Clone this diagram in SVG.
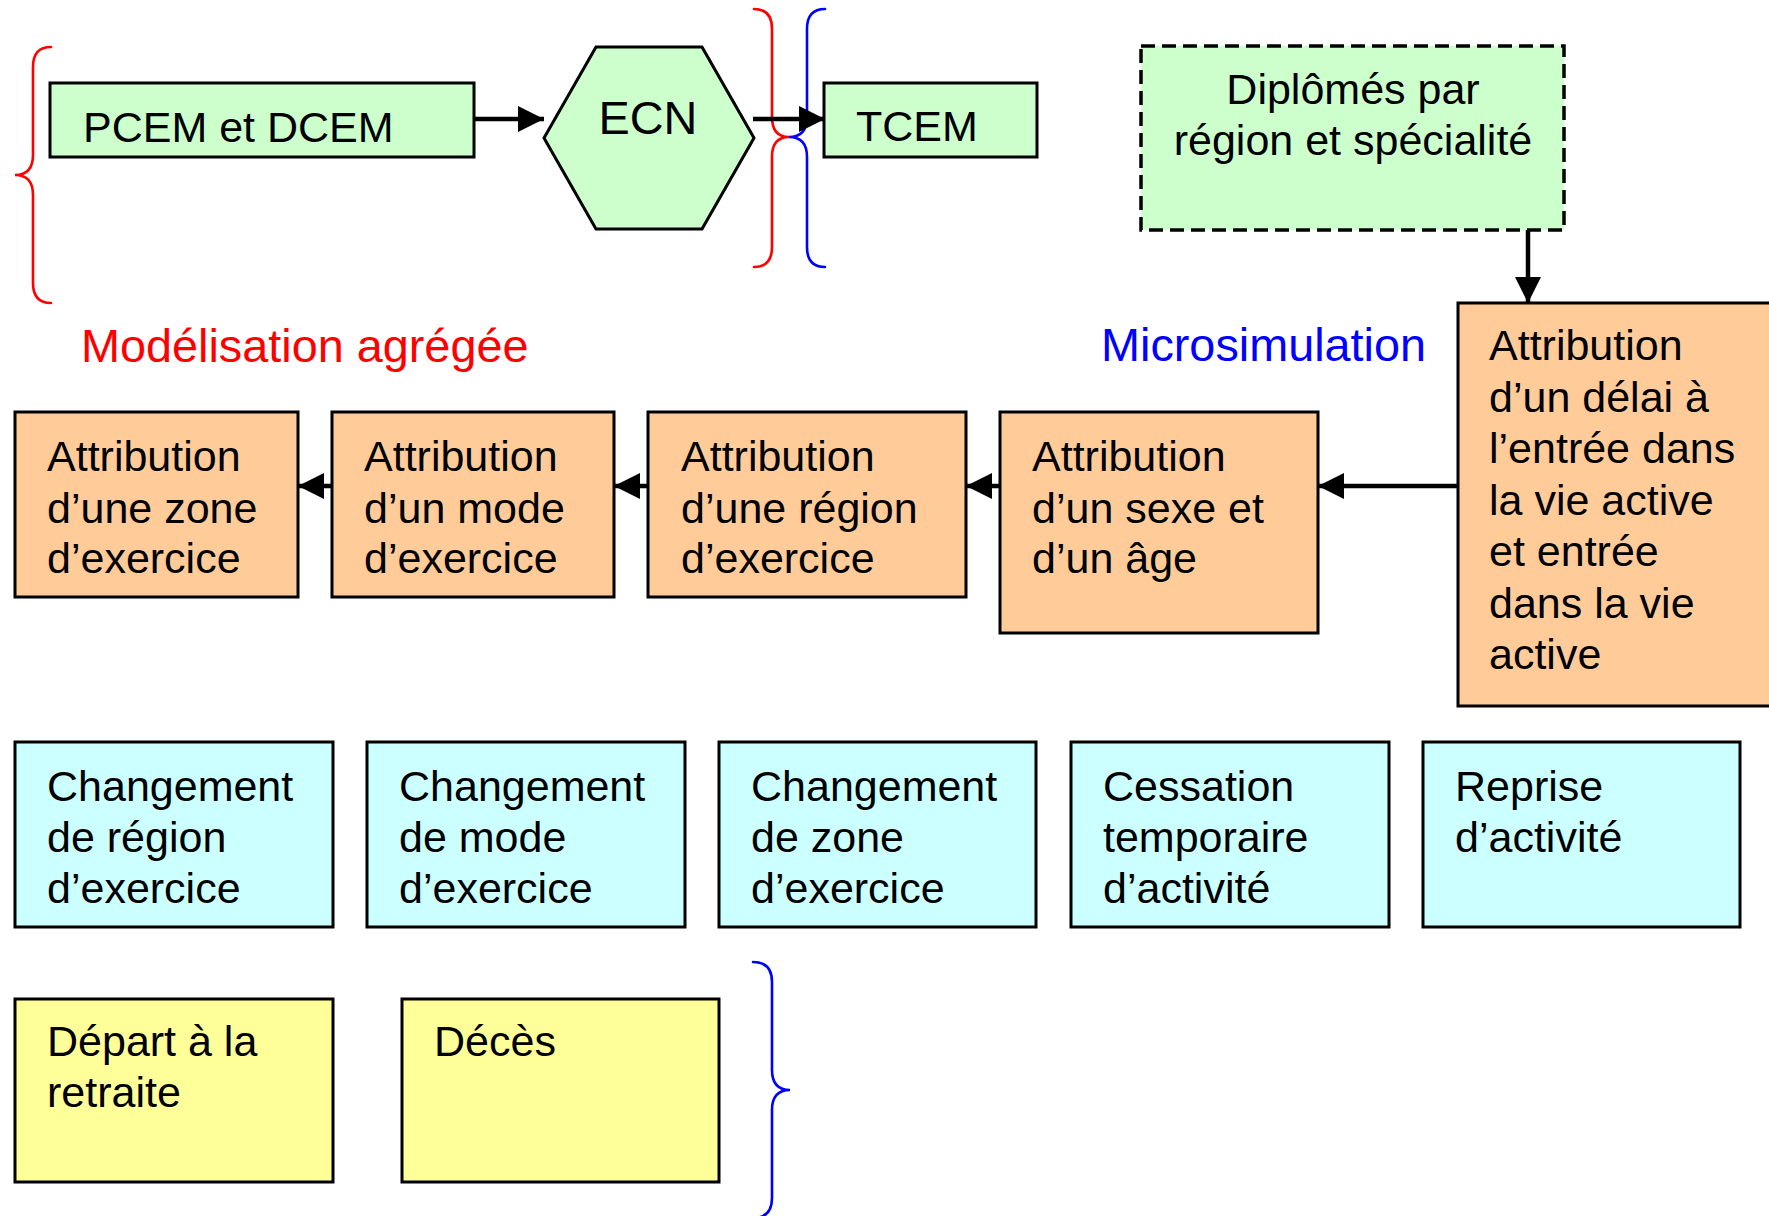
<svg xmlns="http://www.w3.org/2000/svg" width="1769" height="1216" viewBox="0 0 1769 1216">
<style>
text{font-family:"Liberation Sans",Arial,sans-serif;font-size:43px;fill:#000}
.g{fill:#CCFFCC;stroke:#000;stroke-width:3}
.o{fill:#FFCC99;stroke:#000;stroke-width:3}
.c{fill:#CCFFFF;stroke:#000;stroke-width:3}
.y{fill:#FFFF99;stroke:#000;stroke-width:3}
.br{fill:none;stroke-width:2.6;stroke-linecap:round}
.ln{fill:none;stroke:#000;stroke-width:4.5}
.lbl{font-size:46.8px}
</style>
<defs>
<marker id="ah" markerUnits="userSpaceOnUse" markerWidth="26" markerHeight="26" viewBox="0 0 24 24" refX="24" refY="12" orient="auto">
<path d="M0,0 L24,12 L0,24 z" fill="#000"/>
</marker>
</defs>
<rect width="1769" height="1216" fill="#fff"/>

<g id="braces">
<path class="br" stroke="#FF0000" d="M51,47 Q33,47 33,67 L33,155 Q33,175 15,175 Q33,175 33,195 L33,283 Q33,303 51,303"/>
<path class="br" stroke="#FF0000" d="M754,9 Q772,9 772,29 L772,117 Q772,137 789,137 Q772,137 772,157 L772,247 Q772,267 754,267"/>
<path class="br" stroke="#0000FF" d="M825,9 Q807,9 807,29 L807,117 Q807,137 789,137 Q807,137 807,157 L807,247 Q807,267 825,267"/>
<path class="br" stroke="#0000FF" d="M753,962 Q772,962 772,982 L772,1070 Q772,1090 790,1090 Q772,1090 772,1110 L772,1198 Q772,1218 753,1218"/>
</g>

<g id="labels">
<text class="lbl" x="81" y="362" style="fill:#FF0000">Modélisation agrégée</text>
<text class="lbl" x="1101" y="361" style="fill:#0000FF">Microsimulation</text>
</g>

<g id="connectors">
<line class="ln" x1="471" y1="119" x2="544" y2="119" marker-end="url(#ah)"/>
<line class="ln" x1="753" y1="119" x2="825" y2="119" marker-end="url(#ah)"/>
<line class="ln" x1="1528" y1="230" x2="1528" y2="303" marker-end="url(#ah)"/>
<line class="ln" x1="1458" y1="486" x2="1318" y2="486" marker-end="url(#ah)"/>
<line class="ln" x1="1000" y1="486" x2="966" y2="486" marker-end="url(#ah)"/>
<line class="ln" x1="648" y1="486" x2="614" y2="486" marker-end="url(#ah)"/>
<line class="ln" x1="332" y1="486" x2="298" y2="486" marker-end="url(#ah)"/>
</g>

<g id="pcem">
<rect class="g" x="50" y="83" width="424" height="74"/>
<text x="83" y="142">PCEM et DCEM</text>
</g>
<g id="ecn">
<polygon class="g" points="544,138 596,47 702,47 754,138 702,229 596,229"/>
<text class="lbl" x="648" y="134" text-anchor="middle">ECN</text>
</g>
<g id="tcem">
<rect class="g" x="824" y="83" width="213" height="74"/>
<text x="856" y="141">TCEM</text>
</g>
<g id="diplomes">
<rect class="g" x="1141" y="46" width="423" height="184" stroke-dasharray="14 7" style="stroke-width:3.5"/>
<text text-anchor="middle"><tspan x="1353" y="104">Diplômés par</tspan><tspan x="1353" y="155">région et spécialité</tspan></text>
</g>

<g id="attr-delai">
<rect class="o" x="1458" y="303" width="340" height="403"/>
<text><tspan x="1489" y="360">Attribution</tspan><tspan x="1489" y="412">d’un délai à</tspan><tspan x="1489" y="463">l’entrée dans</tspan><tspan x="1489" y="515">la vie active</tspan><tspan x="1489" y="566">et entrée</tspan><tspan x="1489" y="618">dans la vie</tspan><tspan x="1489" y="669">active</tspan></text>
</g>
<g id="attr-sexe">
<rect class="o" x="1000" y="412" width="318" height="221"/>
<text><tspan x="1032" y="471">Attribution</tspan><tspan x="1032" y="523">d’un sexe et</tspan><tspan x="1032" y="573">d’un âge</tspan></text>
</g>
<g id="attr-region">
<rect class="o" x="648" y="412" width="318" height="185"/>
<text><tspan x="681" y="471">Attribution</tspan><tspan x="681" y="523">d’une région</tspan><tspan x="681" y="573">d’exercice</tspan></text>
</g>
<g id="attr-mode">
<rect class="o" x="332" y="412" width="282" height="185"/>
<text><tspan x="364" y="471">Attribution</tspan><tspan x="364" y="523">d’un mode</tspan><tspan x="364" y="573">d’exercice</tspan></text>
</g>
<g id="attr-zone">
<rect class="o" x="15" y="412" width="283" height="185"/>
<text><tspan x="47" y="471">Attribution</tspan><tspan x="47" y="523">d’une zone</tspan><tspan x="47" y="573">d’exercice</tspan></text>
</g>

<g id="chg-region">
<rect class="c" x="15" y="742" width="318" height="185"/>
<text><tspan x="47" y="801">Changement</tspan><tspan x="47" y="852">de région</tspan><tspan x="47" y="903">d’exercice</tspan></text>
</g>
<g id="chg-mode">
<rect class="c" x="367" y="742" width="318" height="185"/>
<text><tspan x="399" y="801">Changement</tspan><tspan x="399" y="852">de mode</tspan><tspan x="399" y="903">d’exercice</tspan></text>
</g>
<g id="chg-zone">
<rect class="c" x="719" y="742" width="317" height="185"/>
<text><tspan x="751" y="801">Changement</tspan><tspan x="751" y="852">de zone</tspan><tspan x="751" y="903">d’exercice</tspan></text>
</g>
<g id="cessation">
<rect class="c" x="1071" y="742" width="318" height="185"/>
<text><tspan x="1103" y="801">Cessation</tspan><tspan x="1103" y="852">temporaire</tspan><tspan x="1103" y="903">d’activité</tspan></text>
</g>
<g id="reprise">
<rect class="c" x="1423" y="742" width="317" height="185"/>
<text><tspan x="1455" y="801">Reprise</tspan><tspan x="1455" y="852">d’activité</tspan></text>
</g>

<g id="retraite">
<rect class="y" x="15" y="999" width="318" height="183"/>
<text><tspan x="47" y="1056">Départ à la</tspan><tspan x="47" y="1107">retraite</tspan></text>
</g>
<g id="deces">
<rect class="y" x="402" y="999" width="317" height="183"/>
<text x="434" y="1056">Décès</text>
</g>
</svg>
